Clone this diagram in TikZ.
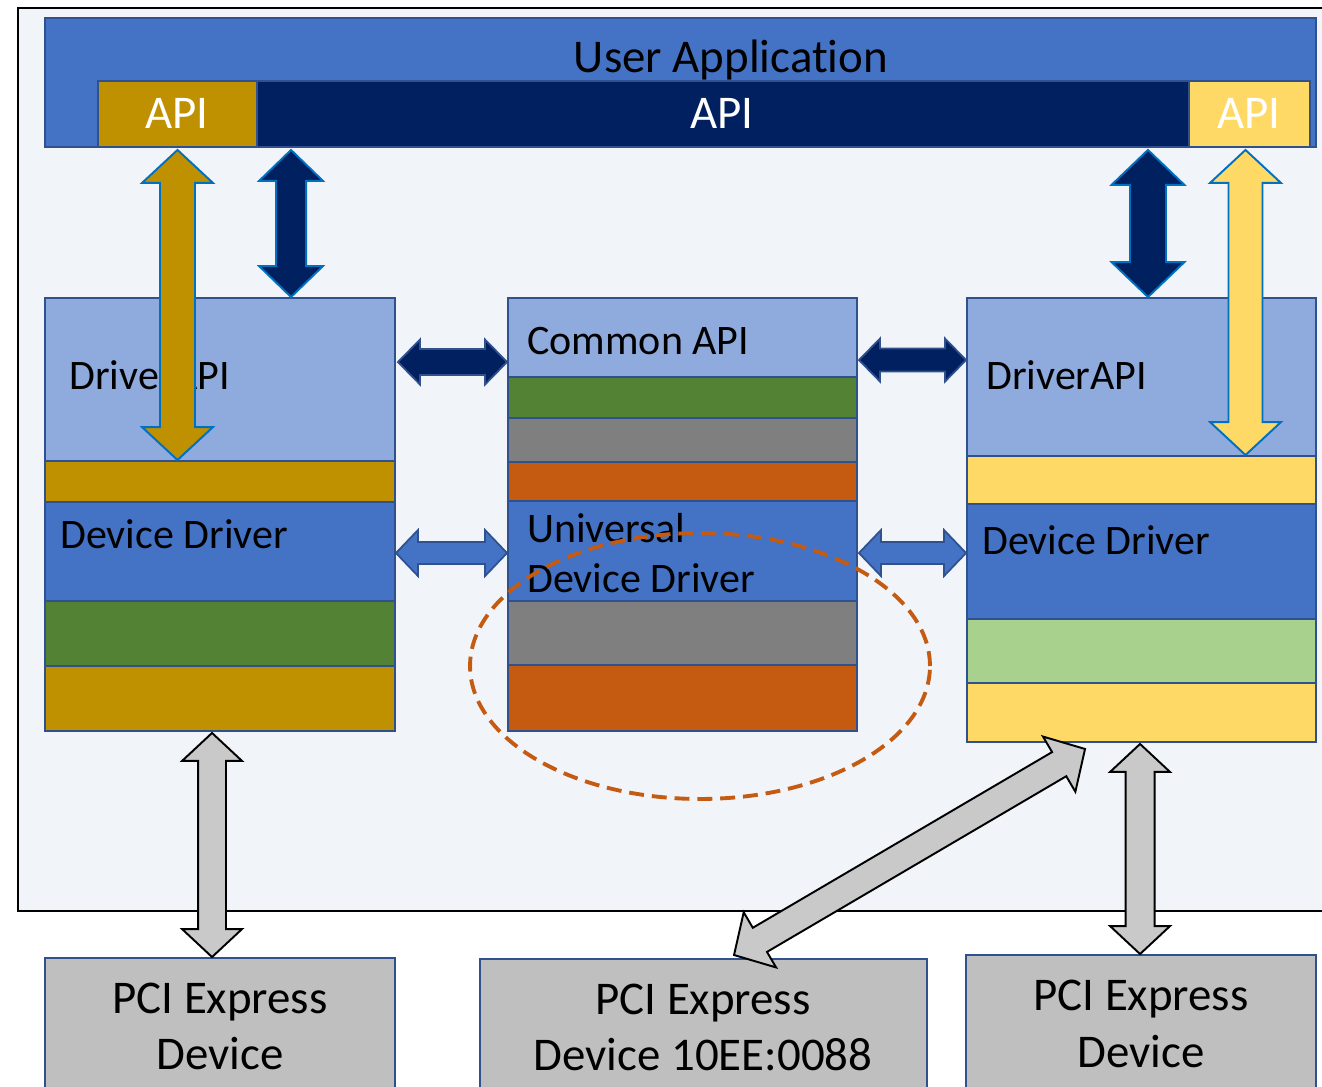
\documentclass[tikz,border=0pt]{standalone}
\usepackage{fontspec}
\setmainfont{Carlito}[Ligatures=NoCommon]
\usetikzlibrary{calc,fit}
\definecolor{framec}{HTML}{F1F4F9}
\definecolor{ublue}{HTML}{4472C4}
\definecolor{bordc}{HTML}{2F528F}
\definecolor{lblue}{HTML}{8FAADC}
\definecolor{navy}{HTML}{002060}
\definecolor{gold}{HTML}{BF9000}
\definecolor{yell}{HTML}{FFD966}
\definecolor{dgreen}{HTML}{548235}
\definecolor{lgreen}{HTML}{A9D18E}
\definecolor{mgray}{HTML}{7F7F7F}
\definecolor{orng}{HTML}{C55A11}
\definecolor{pgray}{HTML}{BFBFBF}
\definecolor{agray}{HTML}{C9C9C9}
\definecolor{oblue}{HTML}{0070C0}
\newcommand\fbig{\fontsize{26.7pt}{32pt}\selectfont}
\newcommand\fmid{\fontsize{23.9pt}{28.5pt}\selectfont}
% #1 style, #2 start, #3 end, #4 shaft half width, #5 head half width, #6 head length
\newcommand\fatarrow[6][]{%
\draw[#1] (#2) -- ($(#2)!#6!(#3)!#5!90:(#3)$) -- ($(#2)!#6!(#3)!#4!90:(#3)$)
 -- ($(#3)!#6!(#2)!#4!-90:(#2)$) -- ($(#3)!#6!(#2)!#5!-90:(#2)$) -- (#3)
 -- ($(#3)!#6!(#2)!#5!90:(#2)$) -- ($(#3)!#6!(#2)!#4!90:(#2)$)
 -- ($(#2)!#6!(#3)!#4!-90:(#3)$) -- ($(#2)!#6!(#3)!#5!-90:(#3)$) -- cycle;}
\begin{document}
\begin{tikzpicture}[x=0.02cm,y=-0.02cm,
  cell/.style={draw=bordc,line width=1.1pt,inner sep=0pt,fit={#1}},
  lbl/.style={font=\fmid,inner sep=0pt,anchor=base west,text=black},
  plbl/.style={font=\fbig,inner sep=0pt,anchor=base,text=black},
  apilbl/.style={font=\fbig,inner sep=0pt,anchor=base,text=white},
  apiarrow/.style={draw=oblue,line width=1.1pt,line join=miter},
  harrow/.style={draw=bordc,line width=1pt,line join=miter},
  grayarrow/.style={draw=black,fill=agray,line width=1.1pt,line join=miter}]
\useasboundingbox (0,0) rectangle (1322,1087);
\clip (0,0) rectangle (1322,1087);
\fill[white] (0,0) rectangle (1322,1087);
% frame
\node[draw=black,line width=1.2pt,fill=framec,inner sep=0pt,fit={(18,8)(1345,911)}] (frame) {};
% user application
\node[cell={(45,18)(1316,147)},fill=ublue] (ua) {};
\node[plbl] (uat) at (731,73) {User Application};
\node[cell={(257,81)(1189,147)},fill=navy] (apiM) {};
\node[cell={(98,81)(257,147)},fill=gold] (apiL) {};
\node[cell={(1189,81)(1310,147)},fill=yell] (apiR) {};
\node[apilbl] (apiMt) at (722,129) {API};
\node[apilbl] (apiLt) at (177,129) {API};
\node[apilbl] (apiRt) at (1249,129) {API};
% left column
\node[cell={(45,298)(395,461)},fill=lblue] (Lapi) {};
\node[cell={(45,461)(395,502)},fill=gold] (Lg1) {};
\node[cell={(45,502)(395,601)},fill=ublue] (Ldd) {};
\node[cell={(45,601)(395,666)},fill=dgreen] (Lgr) {};
\node[cell={(45,666)(395,731)},fill=gold] (Lg2) {};
\node[lbl] (Lapit) at (69,390) {DriverAPI};
\node[lbl] (Lddt) at (60,549) {Device Driver};
% middle column
\node[cell={(508,298)(857,377)},fill=lblue] (Mapi) {};
\node[cell={(508,377)(857,418)},fill=dgreen] (Mgr) {};
\node[cell={(508,418)(857,462)},fill=mgray] (Mgy1) {};
\node[cell={(508,462)(857,501)},fill=orng] (Mor1) {};
\node[cell={(508,501)(857,601)},fill=ublue] (Mdd) {};
\node[cell={(508,601)(857,665)},fill=mgray] (Mgy2) {};
\node[cell={(508,665)(857,731)},fill=orng] (Mor2) {};
\node[lbl] (Mapit) at (527,355) {Common API};
\node[lbl] (Mddt1) at (527,543) {Universal};
\node[lbl] (Mddt2) at (527,593) {Device Driver};
% right column
\node[cell={(967,298)(1316,456)},fill=lblue] (Rapi) {};
\node[cell={(967,456)(1316,504)},fill=yell] (Ry1) {};
\node[cell={(967,504)(1316,619)},fill=ublue] (Rdd) {};
\node[cell={(967,619)(1316,683)},fill=lgreen] (Rgr) {};
\node[cell={(967,683)(1316,742)},fill=yell] (Ry2) {};
\node[lbl] (Rapit) at (986,390) {DriverAPI};
\node[lbl] (Rddt) at (982,555) {Device Driver};
% PCI boxes
\node[cell={(45,958)(395,1100)},fill=pgray] (pciL) {};
\node[cell={(480,959)(927,1100)},fill=pgray] (pciM) {};
\node[cell={(966,955)(1316,1100)},fill=pgray] (pciR) {};
\node[plbl] (pciL1) at (220,1013) {PCI Express};
\node[plbl] (pciL2) at (220,1069) {Device};
\node[plbl] (pciM1) at (703,1014) {PCI Express};
\node[plbl] (pciM2) at (703,1070) {Device 10EE:0088};
\node[plbl] (pciR1) at (1141,1010) {PCI Express};
\node[plbl] (pciR2) at (1141,1067) {Device};
% connector end points
\coordinate (g1a) at ($(apiL.south)+(0,2)$);
\coordinate (g1b) at (g1a |- Lg1.north);
\coordinate (n1a) at ($(apiM.south west)+(35,2)$);
\coordinate (n1b) at (n1a |- Lapi.north);
\coordinate (n2a) at ($(apiM.south east)+(-42,2)$);
\coordinate (n2b) at (n2a |- Rapi.north);
\coordinate (y1a) at ($(apiR.south)+(-4,2)$);
\coordinate (y1b) at (y1a |- Ry1.north);
\coordinate (h1a) at ($(Lapi.north east)+(2,65)$);
\coordinate (h1b) at (h1a -| Mapi.west);
\coordinate (h2a) at ($(Mapi.north east)+(1,63)$);
\coordinate (h2b) at (h2a -| Rapi.west);
\coordinate (b1a) at ($(Ldd.north east)+(0,52)$);
\coordinate (b1b) at (b1a -| Mdd.west);
\coordinate (b2a) at ($(Mdd.north east)+(1,53)$);
\coordinate (b2b) at (b2a -| Rdd.west);
\coordinate (gL1) at ($(Lg2.south west)+(168,1)$);
\coordinate (gL2) at (gL1 |- pciL.north);
\coordinate (gR1) at ($(Ry2.south west)+(174,1)$);
\coordinate (gR2) at (gR1 |- pciR.north);
\coordinate (gD1) at ($(Ry2.south west)+(119,6)$);
\coordinate (gD2) at ($(pciM.north west)+(255,-3)$);
% API arrows
\fatarrow[apiarrow,fill=gold]{g1a}{g1b}{0.35cm}{0.71cm}{0.66cm}
\fatarrow[apiarrow,fill=navy]{n1a}{n1b}{0.30cm}{0.64cm}{0.62cm}
\fatarrow[apiarrow,fill=navy]{n2a}{n2b}{0.36cm}{0.73cm}{0.70cm}
\fatarrow[apiarrow,fill=yell]{y1a}{y1b}{0.34cm}{0.71cm}{0.66cm}
% horizontal arrows
\fatarrow[harrow,fill=navy]{h1a}{h1b}{0.26cm}{0.45cm}{0.44cm}
\fatarrow[harrow,fill=navy]{h2a}{h2b}{0.23cm}{0.43cm}{0.42cm}
\fatarrow[harrow,fill=ublue]{b1a}{b1b}{0.22cm}{0.46cm}{0.44cm}
\fatarrow[harrow,fill=ublue]{b2a}{b2b}{0.22cm}{0.46cm}{0.44cm}
% dashed ellipse
\draw[orng,line width=2.2pt,dash pattern=on 8.5pt off 4.5pt] (700,666) ellipse [x radius=4.6cm,y radius=2.66cm];
% gray arrows
\fatarrow[grayarrow]{gL1}{gL2}{0.28cm}{0.60cm}{0.56cm}
\fatarrow[grayarrow]{gR1}{gR2}{0.29cm}{0.60cm}{0.56cm}
\fatarrow[grayarrow]{gD1}{gD2}{0.28cm}{0.64cm}{0.60cm}
\end{tikzpicture}
\end{document}
